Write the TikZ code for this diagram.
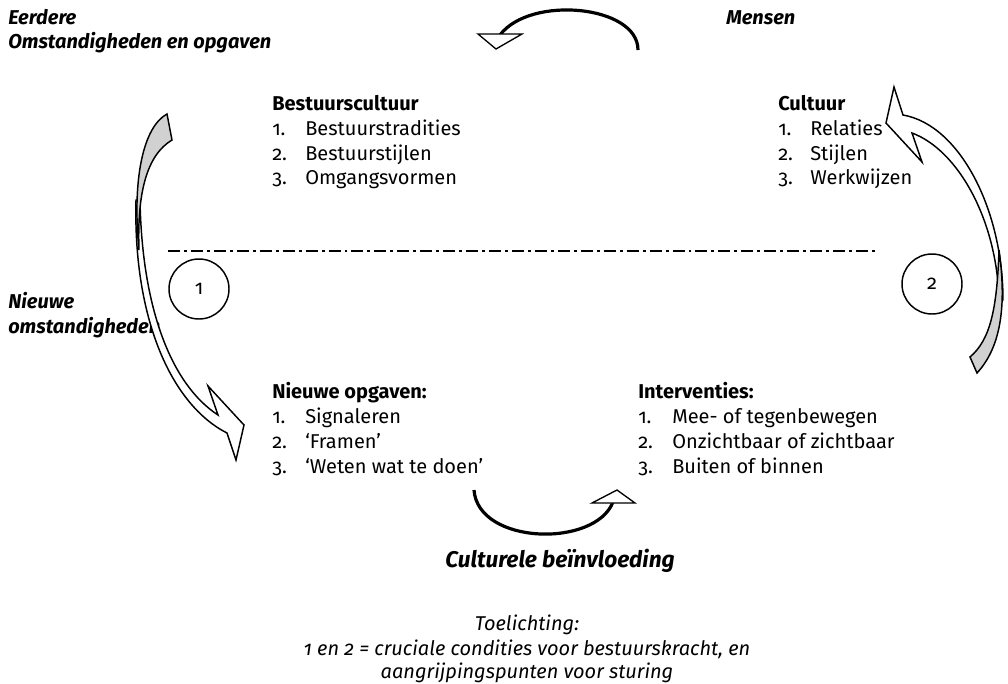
\documentclass[tikz,border=0pt]{standalone}
\usepackage{fontspec}
\setmainfont{Fira Sans}[Numbers=OldStyle]
\begin{document}
\begin{tikzpicture}[x=0.75pt,y=-0.75pt,
  txt/.style={anchor=base west,inner sep=0pt,font=\fontsize{15}{18}\selectfont},
  hd/.style={anchor=base west,inner sep=0pt,font=\fontsize{15}{18}\selectfont\bfseries},
  bi/.style={anchor=base west,inner sep=0pt,font=\fontsize{15}{18}\selectfont\bfseries\itshape},
  note/.style={anchor=base,inner sep=0pt,font=\fontsize{15}{18}\selectfont\itshape},
  numcirc/.style={circle,draw,line width=1.1pt,minimum size=45pt,inner sep=0pt,font=\fontsize{15}{18}\selectfont},
  arc/.style={line width=2.4pt},
  head/.style={draw,fill=white,line width=1pt,line join=miter},
  blk/.style={draw,line width=1.1pt,line join=miter},
  shade/.style={fill=black!18}]
\useasboundingbox (0,0) rectangle (1008,683);

% corner labels
\node[bi] (eer) at (8,24) {Eerdere};
\node[bi] (oms) at (8,48) {Omstandigheden en opgaven};
\node[bi] (men) at (726,24) {Mensen};
\node[bi] (nw) at (8,308) {Nieuwe};
\node[bi] (nwo) at (8,333) {omstandigheden};

% Bestuurscultuur
\node[hd] (bc) at (272,110) {Bestuurscultuur};
\node[txt] (bc1n) at (272,135) {1.};
\node[txt] (bc1) at (305,135) {Bestuurstradities};
\node[txt] (bc2n) at (272,160) {2.};
\node[txt] (bc2) at (305,160) {Bestuurstijlen};
\node[txt] (bc3n) at (272,184) {3.};
\node[txt] (bc3) at (305,184) {Omgangsvormen};

% Cultuur
\node[hd] (cu) at (778,110) {Cultuur};
\node[txt] (cu1n) at (778,135) {1.};
\node[txt] (cu1) at (810,135) {Relaties};
\node[txt] (cu2n) at (778,160) {2.};
\node[txt] (cu2) at (810,160) {Stijlen};
\node[txt] (cu3n) at (778,184) {3.};
\node[txt] (cu3) at (810,184) {Werkwijzen};

% Nieuwe opgaven
\node[hd] (no) at (272,398) {Nieuwe opgaven:};
\node[txt] (no1n) at (272,423) {1.};
\node[txt] (no1) at (305,423) {Signaleren};
\node[txt] (no2n) at (272,448) {2.};
\node[txt] (no2) at (305,448) {‘Framen’};
\node[txt] (no3n) at (272,473) {3.};
\node[txt] (no3) at (305,473) {‘Weten wat te doen’};

% Interventies
\node[hd] (iv) at (638,398) {Interventies:};
\node[txt] (iv1n) at (638,423) {1.};
\node[txt] (iv1) at (672,423) {Mee- of tegenbewegen};
\node[txt] (iv2n) at (638,448) {2.};
\node[txt] (iv2) at (672,448) {Onzichtbaar of zichtbaar};
\node[txt] (iv3n) at (638,473) {3.};
\node[txt] (iv3) at (672,473) {Buiten of binnen};

% bottom texts
\node[bi,anchor=base,font=\fontsize{17}{20}\selectfont\bfseries\itshape] (cb) at (560,567) {Culturele beïnvloeding};
\node[note] (t1) at (527,630) {Toelichting:};
\node[note] (t2) at (527,655) {1 en 2 = cruciale condities voor bestuurskracht, en};
\node[note] (t3) at (527,678) {aangrijpingspunten voor sturing};

% dash-dot separator
\coordinate (dl) at (168,251);
\coordinate (dr) at (878,251);
\draw[line width=1.1pt,dash pattern=on 9pt off 3pt on 2.2pt off 3pt] (dl) -- (dr);

% numbered circles
\node[numcirc] (c1) at (199,289) {1};
\node[numcirc] (c2) at (932,284) {2};

% top curved arrow
\coordinate (ta) at (638,50);
\coordinate (tb) at (500,35);
\draw[arc] (ta) .. controls (638,5) and (530,-5) .. (tb);
\draw[head] (478,34) -- (522,34) -- (496,49) -- cycle;

% bottom curved arrow
\coordinate (ba) at (474,490);
\coordinate (bb) at (613,502);
\draw[arc] (ba) .. controls (478,545) and (595,548) .. (bb);
\draw[head] (592,503) -- (635,503) -- (617,490) -- cycle;

% left block arrow (shaft + head)
\draw[blk,fill=white] (136,200) .. controls (133,320) and (172,405) .. (227,433)
  -- (236,460) -- (244,425) -- (208,386) -- (218,415)
  .. controls (172,385) and (142,310) .. (140,200) -- cycle;
% left block arrow tail (shaded)
\draw[blk,shade] (167,114) .. controls (143,127) and (132,180) .. (139,250)
  .. controls (137,192) and (147,155) .. (172,140) -- cycle;

% right block arrow (shaft + head)
\draw[blk,fill=white] (1003,300) .. controls (1003,210) and (960,125) .. (903,115)
  -- (894,87) -- (886,123) -- (922,162) -- (912,133)
  .. controls (958,150) and (997,220) .. (999,300) -- cycle;
% right block arrow tail (shaded)
\draw[blk,shade] (999,250) .. controls (1006,300) and (1003,345) .. (977,373)
  -- (970,357) .. controls (990,340) and (997,310) .. (999,250) -- cycle;
\end{tikzpicture}
\end{document}
